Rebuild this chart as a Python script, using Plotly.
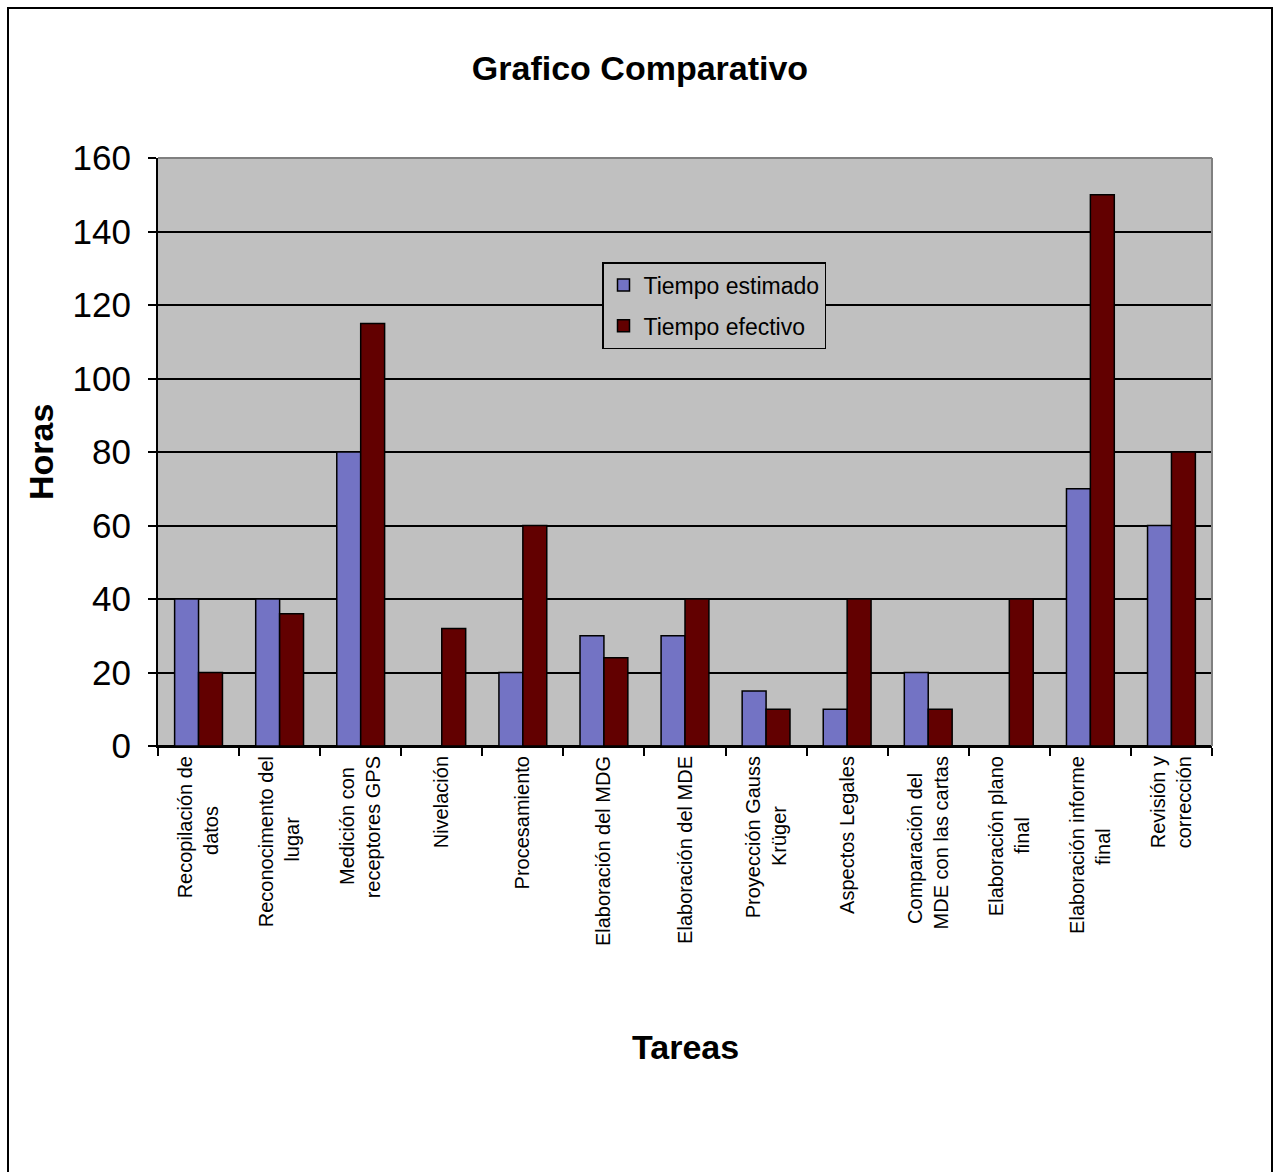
import plotly.graph_objects as go

categorias = [
    ["Recopilación de", "datos"],
    ["Reconocimento del", "lugar"],
    ["Medición con", "receptores GPS"],
    ["Nivelación"],
    ["Procesamiento"],
    ["Elaboración del MDG"],
    ["Elaboración del MDE"],
    ["Proyección Gauss", "Krüger"],
    ["Aspectos Legales"],
    ["Comparación del", "MDE con las cartas"],
    ["Elaboración plano", "final"],
    ["Elaboración informe", "final"],
    ["Revisión y", "corrección"],
]
tiempo_estimado = [40, 40, 80, 0, 20, 30, 30, 15, 10, 20, 0, 70, 60]
tiempo_efectivo = [20, 36, 115, 32, 60, 24, 40, 10, 40, 10, 40, 150, 80]
y_ticks = [0, 20, 40, 60, 80, 100, 120, 140, 160]

FONT = "Liberation Sans, Arial, sans-serif"


def etiqueta(lineas):
    # centre shorter lines against the longest one (labels are end-anchored)
    n = max(len(s) for s in lineas)
    out = []
    for s in lineas:
        pad = int(round((n - len(s)) * 0.9))
        out.append(s + "\u00a0" * pad)
    return "<br>".join(out)


etiquetas = [etiqueta(c) for c in categorias]

fig = go.Figure()
fig.add_trace(go.Bar(
    name="Tiempo estimado", x=etiquetas, y=tiempo_estimado, legendgroup="a",
    marker=dict(color="#7373C4", line=dict(color="black", width=1.5)),
))
fig.add_trace(go.Bar(
    name="Tiempo efectivo", x=etiquetas, y=tiempo_efectivo, legendgroup="b",
    marker=dict(color="#620000", line=dict(color="black", width=1.5)),
))

W, H = 1280, 1172
L, R, T, B = 158, 68, 158, 426
pw, ph = W - L - R, H - T - B


def px(x):
    return (x - L) / pw


def py(y):
    return (H - B - y) / ph


fig.update_layout(
    width=W, height=H,
    margin=dict(l=L, r=R, t=T, b=B),
    paper_bgcolor="white",
    plot_bgcolor="#C0C0C0",
    barmode="group",
    bargap=0.41,
    bargroupgap=0,
    font=dict(family=FONT, color="black"),
    title=dict(text="<b>Grafico Comparativo</b>", x=0.5, xanchor="center",
               y=1 - 68 / H, yanchor="middle", font=dict(size=34, family=FONT)),
    legend=dict(x=px(602), y=py(262), xanchor="left", yanchor="top",
                bgcolor="#C0C0C0", bordercolor="black", borderwidth=1.5,
                traceorder="grouped", tracegroupgap=8,
                font=dict(size=23, family=FONT)),
    xaxis=dict(
        type="category",
        tickangle=-90, tickfont=dict(size=20, family=FONT),
        ticks="outside", ticklen=8, tickwidth=1.5, tickcolor="black",
        tickson="boundaries", showline=True, linecolor="black", linewidth=2,
        showgrid=False,
    ),
    yaxis=dict(
        range=[0, 160], tickvals=y_ticks, tickfont=dict(size=35, family=FONT),
        ticks="outside", ticklen=8, tickwidth=1.5, tickcolor="black",
        showline=True, linecolor="black", linewidth=2,
        showgrid=True, gridcolor="black", gridwidth=2,
        zeroline=True, zerolinecolor="black", zerolinewidth=2,
        ticklabelstandoff=10,
    ),
    annotations=[
        dict(text="<b>Horas</b>", x=px(41), y=py(452), xref="paper", yref="paper",
             showarrow=False, textangle=-90, font=dict(size=34, family=FONT),
             xanchor="center", yanchor="middle"),
        dict(text="<b>Tareas</b>", x=px(685), y=py(1047), xref="paper", yref="paper",
             showarrow=False, font=dict(size=34, family=FONT),
             xanchor="center", yanchor="middle"),
    ],
    shapes=[
        dict(type="rect", xref="paper", yref="paper",
             x0=px(8), x1=px(1272), y0=py(1185), y1=py(8),
             line=dict(color="black", width=2), layer="below"),
        dict(type="line", xref="paper", yref="paper", x0=0, x1=1, y0=1, y1=1,
             line=dict(color="#808080", width=2)),
        dict(type="line", xref="paper", yref="paper", x0=1, x1=1, y0=0, y1=1,
             line=dict(color="#808080", width=2)),
    ],
)

fig.write_html("out.html")
